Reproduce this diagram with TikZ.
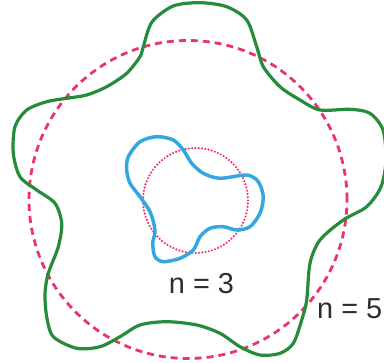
\documentclass[tikz,border=0pt]{standalone}
\usepackage{fontspec}
\usepackage{tikz}
\newfontfamily\labelfont{Liberation Sans}
\definecolor{modegreen}{RGB}{38,140,58}
\definecolor{modeblue}{RGB}{52,168,222}
\definecolor{orbitpink}{RGB}{232,52,112}
\definecolor{labgray}{RGB}{45,45,45}

\begin{document}
\begin{tikzpicture}[x=1bp,y=1bp,
  wave/.style={line width=3.2bp,line join=round},
  lab/.style={font=\labelfont\fontsize{29}{34}\selectfont,text=labgray,inner sep=0pt}]
\useasboundingbox (0,0) rectangle (384,363);
% unperturbed orbits
\draw[orbitpink,line width=2.8bp,dash pattern=on 7bp off 5bp] (188,163.5) circle[radius=159bp];
\draw[orbitpink,line width=2.4bp,line cap=round,dash pattern=on 0bp off 3.3bp] (195.5,162.5) circle[radius=52.5bp];
% n = 5 standing wave
\draw[modegreen,wave] plot[smooth cycle,tension=0.5] coordinates{
 (143.3,316.3) (152,341) (173.3,357) (200,360.3) (226.7,356.3) (246.7,343)
 (256.7,316.3) (263.3,296.3) (280,276.3) (300,263) (320,253) (350,253.7)
 (370,249.7) (383,233) (386,203) (381,176.3) (366.7,156.3) (343.3,143)
 (320,123) (310,99.7) (306.7,63) (301.7,43) (293.3,19.7) (280,9.7) (260,8)
 (240,16.3) (220,29.7) (196.7,38) (166.7,41.3) (140,38) (120,26.3) (100,16.3)
 (76.7,14.7) (53.3,26.3) (46.7,46.3) (45,69.7) (48.3,89.7) (58.3,116.3)
 (61.7,139.7) (55,159.7) (36.7,173) (20,186.3) (13.3,209.7) (15,236.3)
 (26.7,253) (46.7,261.3) (66.7,264.7) (86.7,268) (106.7,276.3) (126.7,289.7)
 (140,306.3)};
% n = 3 standing wave
\draw[modeblue,wave,line width=3.5bp] plot[smooth cycle,tension=0.5] coordinates{
 (128.3,206.3) (140,221.3) (156.7,226.3) (173.3,223) (183.3,213) (191.7,199.7)
 (203.3,189.7) (220,184.7) (246.7,188) (258.3,181.3) (263.3,166.3) (260,149.7)
 (250,136.3) (236.7,133) (223.3,136.3) (210,134.7) (200,126.3) (193.3,113)
 (180,104.7) (163.3,101.3) (155,106.3) (152.7,119.7) (155,133) (150,151.3)
 (140,166.3) (130,179.7) (126.7,193)};
\node[lab,anchor=base] (nthree) at (201.5,70) {n = 3};
\node[lab,anchor=base west] (nfive) at (317,45) {n = 5};
\end{tikzpicture}
\end{document}
